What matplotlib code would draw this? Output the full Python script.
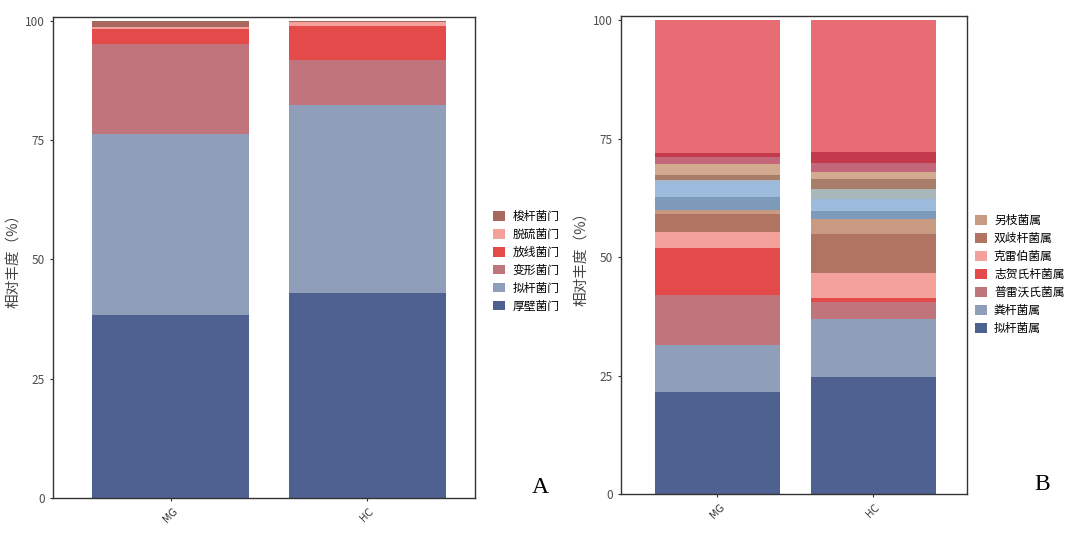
import matplotlib.pyplot as plt
import numpy as np

plt.rcParams['font.family'] = ['Noto Sans CJK SC', 'DejaVu Sans']

groups = ['MG', 'HC']

# panel A: phylum level (bottom to top)
phylum_names = ['厚壁菌门', '拟杆菌门', '变形菌门', '放线菌门', '脱硫菌门', '梭杆菌门']
phylum_mg = [38.4, 37.9, 18.8, 3.2, 0.5, 1.2]
phylum_hc = [43.0, 39.4, 9.4, 7.2, 0.7, 0.3]
phylum_colors = ['#4f6190', '#8f9fba', '#c0747b', '#e44a4a', '#f4a19b', '#a8685e']

# panel B: genus level (bottom to top), only the first 7 are named in the legend
genus_names = ['拟杆菌属', '粪杆菌属', '普雷沃氏菌属', '志贺氏杆菌属', '克雷伯菌属', '双歧杆菌属', '另枝菌属',
               'g8', 'g9', 'g10', 'g11', 'g12', 'g13', 'g14', '其他']
genus_mg = [21.6, 9.8, 10.5, 10.0, 3.4, 3.7, 1.0, 2.7, 3.3, 0.2, 1.2, 2.2, 1.6, 0.7, 28.1]
genus_hc = [24.6, 12.3, 3.7, 0.8, 5.3, 8.2, 3.2, 1.6, 2.5, 2.1, 2.2, 1.5, 1.9, 2.3, 27.8]
genus_colors = ['#4f6190', '#8f9fba', '#c0747b', '#e44a4a', '#f4a19b', '#b27462', '#c99a82',
                '#7e9aba', '#9dbbdd', '#a9b6ba', '#a87e6a', '#d2aa90', '#c4677a', '#c23a4c', '#e86c74']
n_legend_b = 7

fig = plt.figure(figsize=(10.8, 5.33), dpi=100)


def stacked(ax, names, mg, hc, colors, n_legend, legend_anchor, xlim):
    x = np.arange(1, len(groups) + 1)
    bottom = np.zeros(len(groups))
    handles = []
    for name, a, b, c in zip(names, mg, hc, colors):
        vals = np.array([a, b])
        h = ax.bar(x, vals, bottom=bottom, width=0.8, color=c, label=name, linewidth=0)
        handles.append(h)
        bottom += vals
    ax.set_xlim(*xlim)
    ax.set_ylim(0, 100.9)
    ax.set_yticks([0, 25, 50, 75, 100])
    ax.set_xticks(x)
    ax.set_xticklabels(groups, rotation=45, fontsize=7, color='#333333', family='DejaVu Sans')
    ax.tick_params(axis='y', labelsize=8.5, labelcolor='#4d4d4d', length=2.5, color='#333333')
    ax.tick_params(axis='x', length=2.5, color='#333333')
    for s in ax.spines.values():
        s.set_color('#333333')
        s.set_linewidth(1.0)
    ax.set_ylabel('相对丰度（%）', fontsize=10.5, color='#444444', labelpad=3)
    shown = handles[:n_legend][::-1]
    labels = names[:n_legend][::-1]
    ax.legend(shown, labels, loc='center left', bbox_to_anchor=legend_anchor,
              bbox_transform=fig.transFigure, frameon=False, fontsize=8.5,
              handlelength=1.0, handleheight=0.9, handletextpad=0.6, labelspacing=0.42)


ax1 = fig.add_axes([0.049, 0.0657, 0.391, 0.903])
stacked(ax1, phylum_names, phylum_mg, phylum_hc, phylum_colors, len(phylum_names),
        (0.447, 0.51), (0.4, 2.55))

ax2 = fig.add_axes([0.575, 0.0732, 0.3204, 0.897])
stacked(ax2, genus_names, genus_mg, genus_hc, genus_colors, n_legend_b,
        (0.893, 0.485), (0.385, 2.6))

fig.text(0.5, 0.065, 'A', fontsize=17, family='Liberation Serif', ha='center', va='bottom')
fig.text(0.965, 0.072, 'B', fontsize=17, family='Liberation Serif', ha='center', va='bottom')

fig.savefig('out.png', dpi=100)
